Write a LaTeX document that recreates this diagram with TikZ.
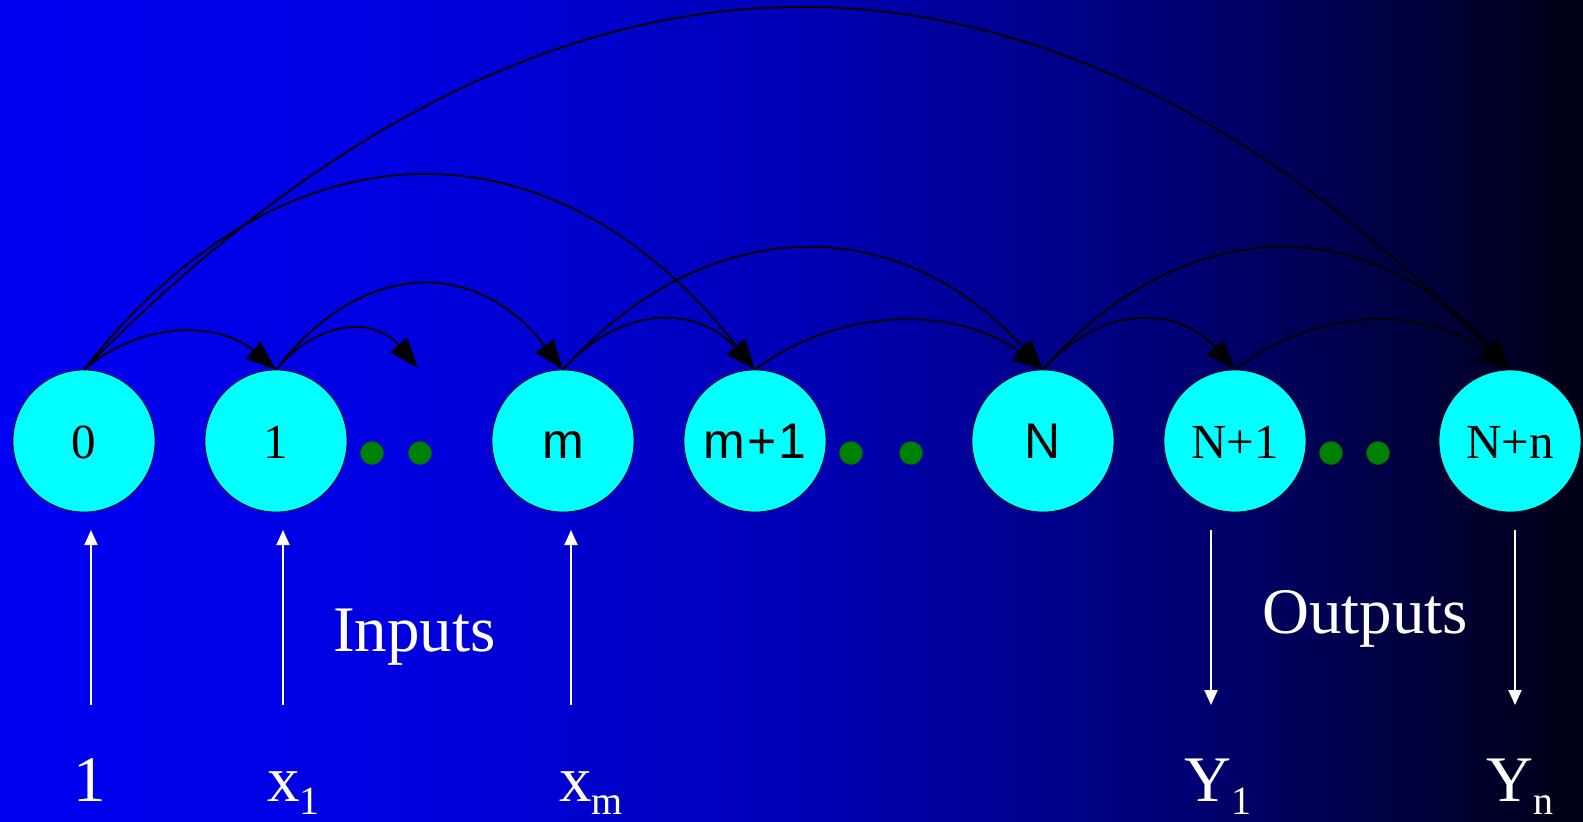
\documentclass[tikz,border=0pt]{standalone}
\usepackage{fontspec}
\setmainfont{Liberation Serif}
\newfontfamily\arialf{Liberation Sans}
\usetikzlibrary{arrows.meta,calc}
\definecolor{nodecyan}{RGB}{0,255,255}
\definecolor{dotgreen}{RGB}{0,128,0}
\pgfdeclarehorizontalshading{bgshade}{100bp}{rgb(0bp)=(0,0,0.95); rgb(25bp)=(0,0,0.95); rgb(37.5bp)=(0,0,0.88); rgb(50bp)=(0,0,0.72); rgb(62.5bp)=(0,0,0.45); rgb(75bp)=(0,0,0.08); rgb(100bp)=(0,0,0.08)}
\begin{document}
\begin{tikzpicture}[x=1pt,y=-1pt,
  neuron/.style={circle, minimum size=142pt, inner sep=0pt, fill=nodecyan, draw=black, line width=0.7pt, text height=34pt, text depth=0pt, font=\fontsize{49}{49}\selectfont},
  sneuron/.style={neuron, font=\arialf\fontsize{50}{50}\selectfont},
  gdot/.style={circle, minimum size=23pt, inner sep=0pt, fill=dotgreen, draw=black!60!green, line width=0.5pt},
  edge/.style={draw=black, line width=1.8pt, -{Triangle[length=30pt,width=22pt]}},
  io/.style={draw=white, line width=2pt, -{Triangle[length=15pt,width=13pt]}},
  big/.style={font=\fontsize{65}{65}\selectfont, text=white, inner sep=0pt},
]
\useasboundingbox (0,0) rectangle (1583,822);
\path[shading=bgshade] (0,0) rectangle (1583,822);

% neurons
\node[neuron]  (n0)  at (84,441)   {0};
\node[neuron]  (n1)  at (276,441)  {1};
\node[sneuron] (nm)  at (563,441)  {m};
\node[sneuron] (nm1) at (755,441)  {m\hspace{2pt}+\hspace{2pt}1};
\node[sneuron] (nN)  at (1043,441) {N};
\node[neuron]  (nN1) at (1235,441) {N+1};
\node[neuron]  (nNn) at (1510,441) {N+n};

% dots
\node[gdot] (d1) at (372,453) {};
\node[gdot] (d2) at (420,453) {};
\node[gdot] (d3) at (851,453) {};
\node[gdot] (d4) at (911,453) {};
\node[gdot] (d5) at (1331,453) {};
\node[gdot] (d6) at (1378,453) {};

\coordinate (dotend) at (418,368);

% edges
\draw[edge] (n0.north)  .. controls ($(n0.north)+(58,-49)$) and ($(n1.north)+(-58,-49)$) .. (n1.north);
\draw[edge] (n1.north)  .. controls ($(n1.north)+(43,-51)$) and ($(dotend)+(-43,-51)$) .. (dotend);
\draw[edge] (n1.north)  .. controls ($(n1.north)+(86,-112)$) and ($(nm.north)+(-86,-112)$) .. (nm.north);
\draw[edge] (n0.north)  .. controls ($(n0.north)+(201,-257)$) and ($(nm1.north)+(-201,-257)$) .. (nm1.north);
\draw[edge] (n0.north)  .. controls ($(n0.north)+(470,-480)$) and ($(nNn.north)+(-470,-480)$) .. (nNn.north);
\draw[edge] (nm.north)  .. controls ($(nm.north)+(58,-65)$) and ($(nm1.north)+(-58,-65)$) .. (nm1.north);
\draw[edge] (nm.north)  .. controls ($(nm.north)+(144,-160)$) and ($(nN.north)+(-144,-160)$) .. (nN.north);
\draw[edge] (nm1.north) .. controls ($(nm1.north)+(86,-64)$) and ($(nN.north)+(-86,-64)$) .. (nN.north);
\draw[edge] (nN.north)  .. controls ($(nN.north)+(58,-65)$) and ($(nN1.north)+(-58,-65)$) .. (nN1.north);
\draw[edge] (nN.north)  .. controls ($(nN.north)+(140,-160)$) and ($(nNn.north)+(-140,-160)$) .. (nNn.north);
\draw[edge] (nN1.north) .. controls ($(nN1.north)+(83,-64)$) and ($(nNn.north)+(-83,-64)$) .. (nNn.north);

% input / output arrows
\coordinate (i0a) at (91,705);   \coordinate (i0b) at (91,530);
\coordinate (i1a) at (283,705);  \coordinate (i1b) at (283,530);
\coordinate (ima) at (571,705);  \coordinate (imb) at (571,530);
\coordinate (o1a) at (1211,530); \coordinate (o1b) at (1211,705);
\coordinate (ona) at (1515,530); \coordinate (onb) at (1515,705);
\draw[io] (i0a) -- (i0b);
\draw[io] (i1a) -- (i1b);
\draw[io] (ima) -- (imb);
\draw[io] (o1a) -- (o1b);
\draw[io] (ona) -- (onb);

% labels
\node[big, anchor=base west] (lin) at (333,651) {Inputs};
\node[big, anchor=base west] (lout) at (1262,633) {Outputs};
\node[big, anchor=base] (l1) at (90,801) {1};
\node[big, anchor=base west] (lx1) at (267,801) {x\raisebox{-13pt}{\fontsize{40}{40}\selectfont 1}};
\node[big, anchor=base west] (lxm) at (559,801) {x\raisebox{-13pt}{\fontsize{40}{40}\selectfont m}};
\node[big, anchor=base west] (ly1) at (1184,801) {Y\raisebox{-13pt}{\fontsize{40}{40}\selectfont 1}};
\node[big, anchor=base west] (lyn) at (1486,801) {Y\raisebox{-13pt}{\fontsize{40}{40}\selectfont n}};
\end{tikzpicture}
\end{document}
